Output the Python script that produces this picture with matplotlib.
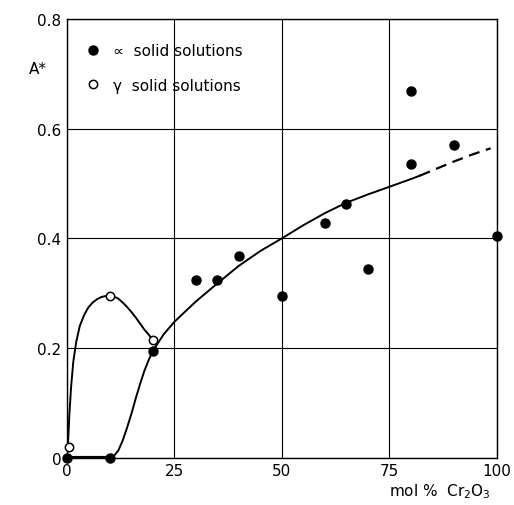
import matplotlib
matplotlib.use("Agg")
import matplotlib.pyplot as plt

# measured points, alpha solid solutions (filled)
alpha_x = [0, 10, 20, 30, 35, 40, 50, 60, 65, 70, 80, 80, 90, 100]
alpha_y = [0.0, 0.0, 0.195, 0.325, 0.325, 0.368, 0.295, 0.428, 0.462, 0.345, 0.535, 0.668, 0.57, 0.404]

# measured points, gamma solid solutions (open)
gamma_x = [0.5, 10, 20]
gamma_y = [0.02, 0.295, 0.215]

# hand-drawn guide curves
gamma_curve_x = [0, 0.3, 0.6, 1.0, 1.5, 2.2, 3.0, 4.0, 5.0, 6.0, 7.0, 8.0, 9.0, 10.0,
                 11.0, 12.0, 13.0, 14.0, 15.0, 16.0, 17.0, 18.0, 19.0, 20.0]
gamma_curve_y = [0.0, 0.03, 0.08, 0.13, 0.175, 0.212, 0.24, 0.26, 0.274, 0.283, 0.289, 0.293, 0.295, 0.295,
                 0.294, 0.29, 0.283, 0.275, 0.266, 0.256, 0.245, 0.234, 0.225, 0.215]

alpha_low_x = [0, 10, 11, 12, 13, 14, 15, 16, 17, 18, 19, 20]
alpha_low_y = [0.0, 0.0, 0.004, 0.014, 0.032, 0.055, 0.08, 0.108, 0.134, 0.158, 0.178, 0.195]

alpha_main_x = [20, 22.5, 25, 30, 35, 40, 45, 50, 55, 60, 65, 70, 75, 80, 82]
alpha_main_y = [0.195, 0.225, 0.248, 0.285, 0.318, 0.35, 0.377, 0.40, 0.424, 0.446, 0.465, 0.48, 0.494, 0.508, 0.514]

alpha_dash_x = [82, 86, 90, 94, 98.5]
alpha_dash_y = [0.514, 0.527, 0.54, 0.552, 0.564]

x_ticks = [0, 25, 50, 75, 100]
y_ticks = [0, 0.2, 0.4, 0.6, 0.8]
y_labels = ["0", "0.2", "0.4", "0.6", "0.8"]

fig = plt.figure(figsize=(5.14, 5.06), dpi=100)
ax = fig.add_axes([0.130, 0.093, 0.837, 0.868])

ax.plot(gamma_curve_x, gamma_curve_y, color="black", lw=1.4)
ax.plot(alpha_low_x, alpha_low_y, color="black", lw=1.4)
ax.plot([0, 10], [0, 0], color="black", lw=3)
ax.plot(alpha_main_x, alpha_main_y, color="black", lw=1.4)
ax.plot(alpha_dash_x, alpha_dash_y, color="black", lw=1.6, dashes=(5, 3))

ax.plot(alpha_x, alpha_y, "o", color="black", ms=6.5, clip_on=False,
        zorder=5, label="\u221d  solid solutions")
ax.plot(gamma_x, gamma_y, "o", mfc="white", mec="black", mew=1.1, ms=6,
        clip_on=False, zorder=5, label="\u03b3  solid solutions")

ax.set_xlim(0, 100)
ax.set_ylim(0, 0.8)
ax.set_xticks(x_ticks)
ax.set_yticks(y_ticks)
ax.set_yticklabels(y_labels)
ax.tick_params(length=0, labelsize=11, pad=4)
ax.grid(color="black", lw=0.8)
ax.set_axisbelow(True)
for s in ax.spines.values():
    s.set_linewidth(1.0)

leg = ax.legend(loc="upper left", bbox_to_anchor=(0.05, 0.945), frameon=False,
                fontsize=11, handlelength=0.6, handletextpad=1.0,
                borderaxespad=0, borderpad=0, labelspacing=1.3)

fig.text(0.073, 0.862, "A*", fontsize=11, ha="center", va="center")
fig.text(0.855, 0.028, "mol %  Cr$_2$O$_3$", fontsize=11, ha="center", va="center")

fig.savefig("out.png", dpi=100)
